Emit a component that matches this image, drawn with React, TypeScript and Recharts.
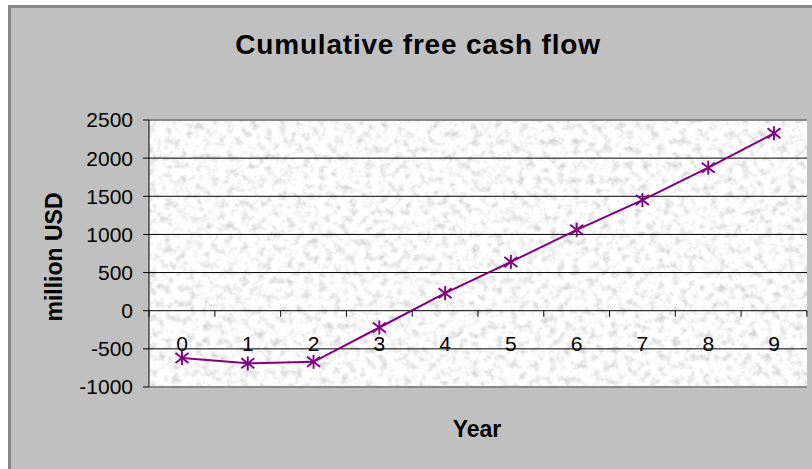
import { LineChart, Line, XAxis, YAxis, CartesianGrid, ReferenceLine } from 'recharts';

// cumulative free cash flow per project year, million USD
const years = ['0', '1', '2', '3', '4', '5', '6', '7', '8', '9'];
const cumulativeCash = [-620, -690, -670, -220, 230, 640, 1060, 1450, 1875, 2325];
const yTicks = [-1000, -500, 0, 500, 1000, 1500, 2000, 2500];

const data = years.map((year, i) => ({ year, cash: cumulativeCash[i] }));

const FONT = '"Liberation Sans", Arial, sans-serif';
const PURPLE = '#800080';

// chart frame
const CHART_W = 801;
const CHART_H = 461;
const PLOT_LEFT = 138;
const PLOT_TOP = 112;
const PLOT_W = 658;
const PLOT_H = 267;
const X_PAD = 33;
const Y_MIN = -1000;
const Y_MAX = 2500;

// the category axis sits on the zero line, not at the bottom of the plot
const ZERO_Y = PLOT_TOP + (PLOT_H * Y_MAX) / (Y_MAX - Y_MIN);
const STEP = (PLOT_W - 2 * X_PAD) / (years.length - 1);

const YearTick = ({ x, payload, index }: any) => {
  const half = STEP / 2;
  return (
    <g>
      <line x1={x - half} x2={x - half} y1={ZERO_Y} y2={ZERO_Y + 6} stroke="#000" />
      {index === years.length - 1 && (
        <line x1={x + half} x2={x + half} y1={ZERO_Y} y2={ZERO_Y + 6} stroke="#000" />
      )}
      <text x={x} y={ZERO_Y + 40} textAnchor="middle" fontSize={21} fontFamily={FONT} fill="#000">
        {payload.value}
      </text>
    </g>
  );
};

// Excel style asterisk marker
const StarDot = ({ cx, cy, index }: any) => (
  <g key={index} stroke={PURPLE} strokeWidth={1.9}>
    <line x1={cx} y1={cy - 7} x2={cx} y2={cy + 7} />
    <line x1={cx - 6.5} y1={cy - 5} x2={cx + 6.5} y2={cy + 5} />
    <line x1={cx - 6.5} y1={cy + 5} x2={cx + 6.5} y2={cy - 5} />
  </g>
);

export default function App() {
  return (
    <>
      <div
        style={{
          position: 'absolute',
          left: 8,
          top: 5,
          width: CHART_W,
          height: CHART_H,
          borderLeft: '3px solid #888',
          borderTop: '3px solid #888',
          background: '#c0c0c0'
        }}
      >
        <LineChart
          width={CHART_W}
          height={CHART_H}
          data={data}
          margin={{ top: PLOT_TOP, right: CHART_W - PLOT_LEFT - PLOT_W, bottom: CHART_H - PLOT_TOP - PLOT_H - 30, left: 0 }}
        >
          <defs>
            {/* newsprint-like grain for the plot background */}
            <filter id="grainNoise" x="0" y="0" width="100%" height="100%">
              <feTurbulence type="fractalNoise" baseFrequency="0.13" numOctaves={4} seed={7} result="n" />
              <feColorMatrix
                in="n"
                type="matrix"
                values="0.8 0 0 0 0.55  0.8 0 0 0 0.55  0.8 0 0 0 0.55  0 0 0 0 1"
              />
            </filter>
            <pattern id="grain" patternUnits="userSpaceOnUse" x="0" y="0" width={CHART_W} height={CHART_H}>
              <rect width={CHART_W} height={CHART_H} fill="#fff" filter="url(#grainNoise)" />
            </pattern>
          </defs>
          <CartesianGrid vertical={false} stroke="#000" fill="url(#grain)" fillOpacity={1} />
          <XAxis
            dataKey="year"
            height={30}
            padding={{ left: X_PAD, right: X_PAD }}
            axisLine={false}
            tickLine={false}
            interval={0}
            tick={<YearTick />}
          />
          <YAxis
            width={PLOT_LEFT}
            domain={[Y_MIN, Y_MAX]}
            ticks={yTicks}
            interval={0}
            tickSize={6}
            tickMargin={10}
            axisLine={{ stroke: '#000' }}
            tickLine={{ stroke: '#000' }}
            tick={{ fontSize: 21, fill: '#000', fontFamily: FONT }}
          />
          <YAxis
            yAxisId="edge"
            orientation="right"
            width={0}
            domain={[Y_MIN, Y_MAX]}
            tick={false}
            tickLine={false}
            axisLine={{ stroke: '#888', strokeWidth: 2 }}
          />
          <ReferenceLine y={Y_MAX} stroke="#888" strokeWidth={2} />
          <ReferenceLine y={Y_MIN} stroke="#888" strokeWidth={2} />
          <Line
            type="linear"
            dataKey="cash"
            stroke={PURPLE}
            strokeWidth={2}
            dot={<StarDot />}
            activeDot={false}
            isAnimationActive={false}
          />
        </LineChart>
      </div>
      <svg
        width={812}
        height={469}
        style={{ position: 'absolute', left: 0, top: 0, pointerEvents: 'none' }}
        fontFamily={FONT}
        fontWeight="bold"
        fill="#000"
      >
        <text x={418} y={54} textAnchor="middle" fontSize={28} letterSpacing={0.8}>
          Cumulative free cash flow
        </text>
        <text x={62} y={257} textAnchor="middle" fontSize={23} transform="rotate(-90 62 257)">
          million USD
        </text>
        <text x={477} y={437} textAnchor="middle" fontSize={23}>
          Year
        </text>
      </svg>
    </>
  );
}
